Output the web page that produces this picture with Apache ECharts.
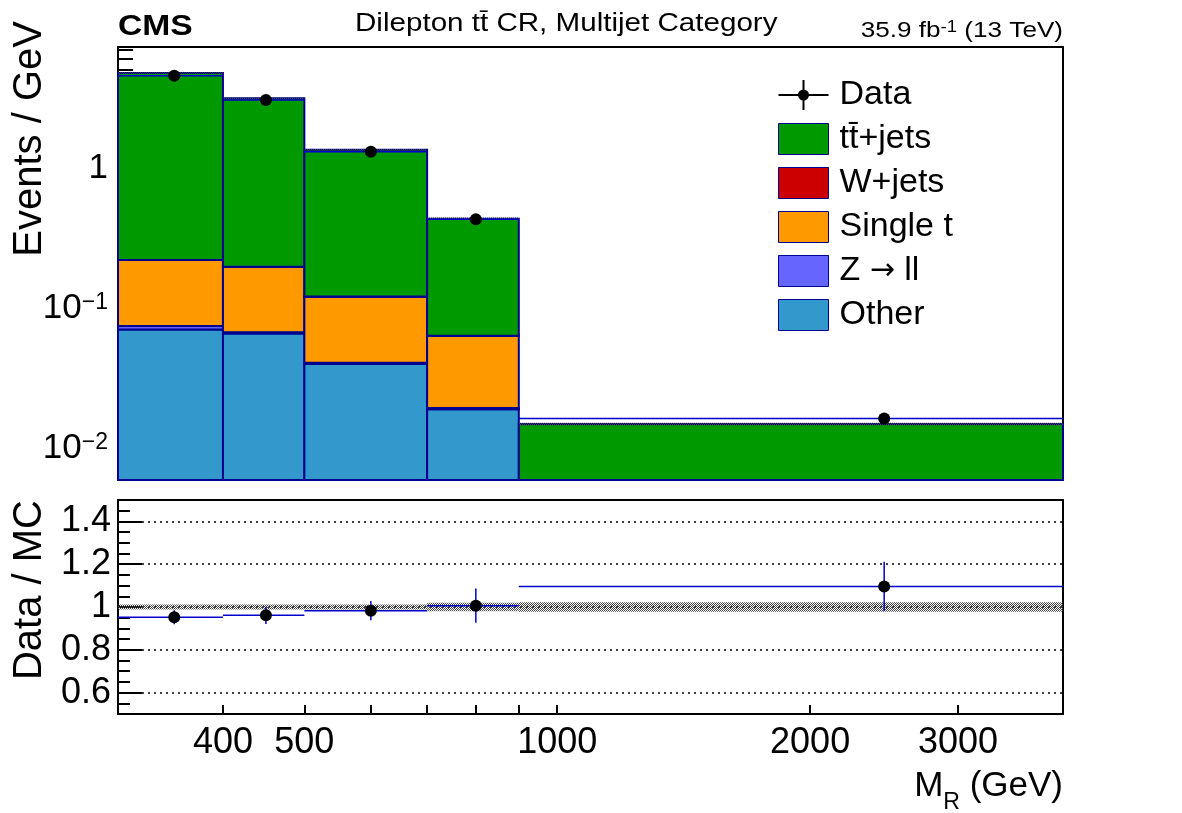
<!DOCTYPE html>
<html>
<head>
<meta charset="utf-8">
<title>Dilepton ttbar CR, Multijet Category</title>
<script src="https://cdn.jsdelivr.net/npm/echarts@6/dist/echarts.min.js"></script>
<style>
    html, body { margin: 0; padding: 0; background: #fff; }
    #main { width: 1182px; height: 813px; }
</style>
</head>
<body>
<div id="main"></div>
<script>
    // M_R bin edges (GeV)
    var binEdges = [300, 400, 500, 700, 900, 4000];
    // backgrounds, events / GeV (stacked bottom -> top: other, Z, single t, W, ttbar)
    var ttbarJets = [4.55, 2.96, 1.23, 0.372, 0.0112];
    var wJets = [0.0008, 0.0006, 0.0004, 0.0002, 0.0001];
    var singleTop = [0.1457, 0.130, 0.0798, 0.0441, 0.0015];
    var zToLL = [0.0042, 0.0014, 0.0008, 0.0004, 0.0001];
    var otherBkg = [0.0706, 0.0660, 0.0400, 0.0190, 0.0020];
    var dataValues = [4.56, 3.06, 1.31, 0.432, 0.0163];
    // relative MC uncertainty (hatched band)
    var mcRelUnc = [0.012, 0.012, 0.012, 0.02, 0.022];
    // ratio panel
    var ratioValues = [0.952, 0.961, 0.983, 1.006, 1.096];
    var ratioErrors = [0.033, 0.040, 0.045, 0.080, 0.115];
    // ticks
    var xMinorTicks = [400, 500, 600, 700, 800, 900, 2000, 3000];
    var xMajorTicks = [1000];
    var xTickLabels = [400, 500, 1000, 2000, 3000];
    var yMajorTicks = [0.01, 0.1, 1];
    var yMinorTicks = [0.006, 0.007, 0.008, 0.009, 0.02, 0.03, 0.04, 0.05, 0.06, 0.07, 0.08, 0.09,
        0.2, 0.3, 0.4, 0.5, 0.6, 0.7, 0.8, 0.9, 2, 3, 4, 5, 6, 7];
    var ratioMajorTicks = [0.6, 0.8, 1, 1.2, 1.4];
    var ratioMinorTicks = [0.55, 0.65, 0.7, 0.75, 0.85, 0.9, 0.95, 1.05, 1.1, 1.15, 1.25, 1.3, 1.35, 1.45];

    var FONT = '"Liberation Sans", Arial, Helvetica, sans-serif';
    var OUTLINE = '#00008f';
    var TT = 't\u0074\u0304';

    // build stacked boxes [lo, hi, base, top]
    var layers = [otherBkg, zToLL, singleTop, wJets, ttbarJets];
    var cum = [0, 0, 0, 0, 0];
    var layerRows = layers.map(function (arr) {
        return arr.map(function (v, i) {
            var b = cum[i];
            cum[i] += v;
            return [binEdges[i], binEdges[i + 1], b, cum[i]];
        });
    });
    var mcTotal = cum.slice();
    var centers = dataValues.map(function (v, i) { return (binEdges[i] + binEdges[i + 1]) / 2; });

    // checker pattern for uncertainty bands
    var hatch = document.createElement('canvas');
    hatch.width = 4; hatch.height = 4;
    var hg = hatch.getContext('2d');
    hg.fillStyle = '#444';
    for (var yy = 0; yy < 4; yy++) for (var xx = 0; xx < 4; xx++) if ((xx + yy) % 2 === 0) hg.fillRect(xx, yy, 1, 1);
    var hatchFill = { image: hatch, repeat: 'repeat' };

    function clipTo(params, rect) {
        var cs = params.coordSys;
        return echarts.graphic.clipRectByRect(rect, { x: cs.x, y: cs.y, width: cs.width, height: cs.height });
    }

    function renderBox(params, api) {
        var base = api.value(2);
        var p0 = api.coord([api.value(0), api.value(3)]);
        var p1 = api.coord([api.value(1), base > 0 ? base : 1e-9]);
        var shape = clipTo(params, { x: p0[0], y: p0[1], width: p1[0] - p0[0], height: p1[1] - p0[1] });
        if (!shape) return null;
        return { type: 'rect', shape: shape, style: { fill: api.visual('color'), stroke: OUTLINE, lineWidth: 2 } };
    }

    function renderBand(params, api) {
        var p0 = api.coord([api.value(0), api.value(3)]);
        var p1 = api.coord([api.value(1), api.value(2)]);
        var shape = clipTo(params, { x: p0[0], y: p0[1], width: p1[0] - p0[0], height: Math.max(p1[1] - p0[1], 1.5) });
        if (!shape) return null;
        return { type: 'rect', shape: shape, style: { fill: hatchFill } };
    }

    function renderLevel(params, api) {
        var a = api.coord([api.value(0), api.value(2)]);
        var b = api.coord([api.value(1), api.value(2)]);
        return { type: 'line', shape: { x1: a[0], y1: a[1], x2: b[0], y2: b[1] }, style: { stroke: '#0000cc', lineWidth: 1.5 } };
    }

    function renderRatio(params, api) {
        var a = api.coord([api.value(0), api.value(3)]);
        var b = api.coord([api.value(1), api.value(3)]);
        var t = api.coord([api.value(2), api.value(3) + api.value(4)]);
        var d = api.coord([api.value(2), api.value(3) - api.value(4)]);
        return {
            type: 'group', children: [
                { type: 'line', shape: { x1: a[0], y1: a[1], x2: b[0], y2: b[1] }, style: { stroke: '#0000cc', lineWidth: 1.5 } },
                { type: 'line', shape: { x1: t[0], y1: t[1], x2: d[0], y2: d[1] }, style: { stroke: '#0000cc', lineWidth: 1.5 } }
            ]
        };
    }

    var black = { color: '#000', width: 2 };
    function logX(grid, extra) {
        return Object.assign({
            type: 'log', logBase: 10, gridIndex: grid, min: 300, max: 4000,
            splitLine: { show: false }, axisLabel: { show: false }, axisTick: { show: false }, axisLine: { show: false }
        }, extra);
    }
    function logY(extra) {
        return Object.assign({
            type: 'log', logBase: 10, gridIndex: 0, min: 0.00594, max: 7.32,
            splitLine: { show: false }, axisLabel: { show: false }, axisTick: { show: false }, axisLine: { show: false }
        }, extra);
    }
    function ratioY(extra) {
        return Object.assign({
            type: 'value', gridIndex: 1, min: 0.5, max: 1.5,
            splitLine: { show: false }, axisLabel: { show: false }, axisTick: { show: false }, axisLine: { show: false }
        }, extra);
    }

    var chart = echarts.init(document.getElementById('main'));
    var option = {
        animation: false,
        backgroundColor: '#fff',
        grid: [
            { left: 118, top: 47, width: 945, height: 433 },
            { left: 118, top: 500, width: 945, height: 214 }
        ],
        xAxis: [
            logX(0, { position: 'bottom', axisLine: { show: true, lineStyle: black },
                axisTick: { show: true, inside: true, length: 6, customValues: xMinorTicks, lineStyle: black } }),
            logX(0, { position: 'bottom', axisTick: { show: true, inside: true, length: 12, customValues: xMajorTicks, lineStyle: black } }),
            logX(0, { position: 'top', axisLine: { show: true, lineStyle: black } }),
            logX(1, { position: 'bottom', axisLine: { show: true, lineStyle: black },
                axisTick: { show: true, inside: true, length: 9, customValues: xMinorTicks.concat(xMajorTicks), lineStyle: black },
                axisLabel: { show: true, customValues: xTickLabels, color: '#000', fontFamily: FONT, fontSize: 36, margin: 11,
                    formatter: function (v) { return String(Math.round(v)); } } }),
            logX(1, { position: 'top', axisLine: { show: true, lineStyle: black } })
        ],
        yAxis: [
            logY({ position: 'left', axisLine: { show: true, lineStyle: black },
                axisTick: { show: true, inside: true, length: 31, customValues: yMajorTicks, lineStyle: black },
                axisLabel: {
                    show: true, customValues: yMajorTicks, color: '#000', fontFamily: FONT, fontSize: 35, margin: 10,
                    formatter: function (v) {
                        var e = Math.round(Math.log10(v));
                        return e === 0 ? '1' : '10{sup|\u2212' + (-e) + '}';
                    },
                    rich: { sup: { fontFamily: FONT, fontSize: 23, color: '#000', verticalAlign: 'top' } }
                } }),
            logY({ position: 'left', axisTick: { show: true, inside: true, length: 15, customValues: yMinorTicks, lineStyle: black } }),
            logY({ position: 'right', axisLine: { show: true, lineStyle: black } }),
            ratioY({ position: 'left', axisLine: { show: true, lineStyle: black },
                axisTick: { show: true, inside: true, length: 24, customValues: ratioMajorTicks, lineStyle: black },
                splitLine: { show: true, lineStyle: { color: '#000', width: 1.5, type: [2, 4] } },
                axisLabel: {
                    show: true, customValues: ratioMajorTicks, color: '#000', fontFamily: FONT, fontSize: 36, margin: 7,
                    formatter: function (v) { return v === 1 ? '1' : v.toFixed(1); }
                } }),
            ratioY({ position: 'left', axisTick: { show: true, inside: true, length: 12, customValues: ratioMinorTicks, lineStyle: black } }),
            ratioY({ position: 'right', axisLine: { show: true, lineStyle: black } })
        ],
        legend: {
            left: 778, top: 78, orient: 'vertical', padding: 0,
            itemWidth: 50, itemHeight: 31, itemGap: 10,
            formatter: function (name) { return name.replace('\u2192', '{arr|\u2192}'); },
            textStyle: { fontFamily: FONT, fontSize: 34, lineHeight: 31, color: '#000', padding: [0, 0, 0, 6],
                rich: { arr: { fontFamily: '"DejaVu Sans", sans-serif', fontSize: 30, color: '#000' } } },
            itemStyle: { borderColor: OUTLINE, borderWidth: 1 },
            data: [
                { name: 'Data', icon: 'path://M0,14H50V16H0Z M24,0H26V30H24Z M25,9.5A5.5,5.5,0,1,1,25,20.5A5.5,5.5,0,1,1,25,9.5Z', itemStyle: { borderWidth: 0 } },
                { name: TT + '+jets', icon: 'rect' },
                { name: 'W+jets', icon: 'rect' },
                { name: 'Single t', icon: 'rect' },
                { name: 'Z \u2192 ll', icon: 'rect' },
                { name: 'Other', icon: 'rect' }
            ]
        },
        graphic: [
            { type: 'text', x: 118, y: 27, scaleX: 1.16, style: { text: 'CMS', fontFamily: FONT, fontWeight: 'bold', fontSize: 29, fill: '#000', align: 'left', verticalAlign: 'middle' } },
            { type: 'text', x: 355, y: 24, scaleX: 1.16, style: { text: 'Dilepton ' + TT + ' CR, Multijet Category', fontFamily: FONT, fontSize: 25.5, fill: '#000', align: 'left', verticalAlign: 'middle' } },
            { type: 'text', x: 1063, y: 31, scaleX: 1.16, style: {
                text: '35.9 fb{sup|-1} (13 TeV)', fontFamily: FONT, fontSize: 22.5, fill: '#000', align: 'right', verticalAlign: 'middle',
                rich: { sup: { fontFamily: FONT, fontSize: 16, fill: '#000', verticalAlign: 'top' } } } },
            { type: 'text', x: 30, y: 21, rotation: Math.PI / 2, style: { text: 'Events / GeV', fontFamily: FONT, fontSize: 40, fill: '#000', align: 'right', verticalAlign: 'middle' } },
            { type: 'text', x: 30, y: 500, rotation: Math.PI / 2, style: { text: 'Data / MC', fontFamily: FONT, fontSize: 40, fill: '#000', align: 'right', verticalAlign: 'middle' } },
            { type: 'text', x: 1063, y: 786, style: {
                text: 'M{sub|R} (GeV)', fontFamily: FONT, fontSize: 35, lineHeight: 56, fill: '#000', align: 'right', verticalAlign: 'middle',
                rich: { sub: { fontFamily: FONT, fontSize: 23, lineHeight: 23, fill: '#000', verticalAlign: 'bottom' } } } }
        ],
        series: [
            { name: 'Other', type: 'custom', xAxisIndex: 0, yAxisIndex: 0, z: 2, itemStyle: { color: '#3399cc' }, renderItem: renderBox, encode: { x: [0, 1], y: 3 }, data: layerRows[0] },
            { name: 'Z \u2192 ll', type: 'custom', xAxisIndex: 0, yAxisIndex: 0, z: 2, itemStyle: { color: '#6666ff' }, renderItem: renderBox, encode: { x: [0, 1], y: 3 }, data: layerRows[1] },
            { name: 'Single t', type: 'custom', xAxisIndex: 0, yAxisIndex: 0, z: 2, itemStyle: { color: '#ff9900' }, renderItem: renderBox, encode: { x: [0, 1], y: 3 }, data: layerRows[2] },
            { name: 'W+jets', type: 'custom', xAxisIndex: 0, yAxisIndex: 0, z: 2, itemStyle: { color: '#cc0000' }, renderItem: renderBox, encode: { x: [0, 1], y: 3 }, data: layerRows[3] },
            { name: TT + '+jets', type: 'custom', xAxisIndex: 0, yAxisIndex: 0, z: 2, itemStyle: { color: '#009900' }, renderItem: renderBox, encode: { x: [0, 1], y: 3 }, data: layerRows[4] },
            { type: 'custom', xAxisIndex: 0, yAxisIndex: 0, z: 3, renderItem: renderBand, encode: { x: [0, 1], y: 3 },
                data: mcTotal.map(function (t, i) { return [binEdges[i], binEdges[i + 1], t * (1 - mcRelUnc[i]), t * (1 + mcRelUnc[i])]; }) },
            { type: 'custom', xAxisIndex: 0, yAxisIndex: 0, z: 4, renderItem: renderLevel, encode: { x: [0, 1], y: 2 },
                data: dataValues.map(function (v, i) { return [binEdges[i], binEdges[i + 1], v]; }) },
            { name: 'Data', type: 'scatter', xAxisIndex: 0, yAxisIndex: 0, z: 5, symbol: 'circle', symbolSize: 12, itemStyle: { color: '#000', opacity: 1 },
                data: dataValues.map(function (v, i) { return [centers[i], v]; }) },
            { type: 'custom', xAxisIndex: 3, yAxisIndex: 3, z: 3, renderItem: renderBand, encode: { x: [0, 1], y: 3 },
                data: mcRelUnc.map(function (u, i) { return [binEdges[i], binEdges[i + 1], 1 - u, 1 + u]; }) },
            { type: 'custom', xAxisIndex: 3, yAxisIndex: 3, z: 4, renderItem: renderRatio, encode: { x: [0, 1], y: 3 },
                data: ratioValues.map(function (r, i) { return [binEdges[i], binEdges[i + 1], centers[i], r, ratioErrors[i]]; }) },
            { type: 'scatter', xAxisIndex: 3, yAxisIndex: 3, z: 5, symbol: 'circle', symbolSize: 12, itemStyle: { color: '#000', opacity: 1 },
                data: ratioValues.map(function (r, i) { return [centers[i], r]; }) }
        ]
    };
    chart.setOption(option);
</script>
</body>
</html>
